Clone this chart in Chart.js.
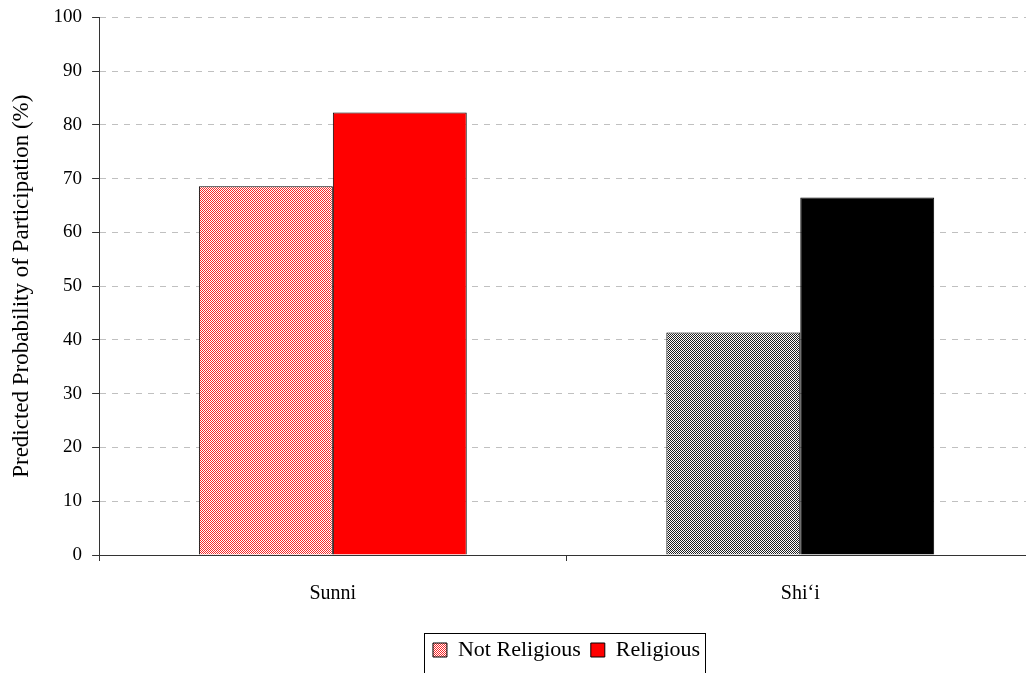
<!DOCTYPE html>
<html lang="en">
<head>
    <meta charset="UTF-8">
    <title>Predicted Probability of Participation</title>
    <script src="https://cdn.jsdelivr.net/npm/chart.js"></script>
    <style>
        html, body { margin: 0; padding: 0; background: #fff; overflow: hidden; }
        #wrap { width: 1040px; height: 675px; }
    </style>
</head>
<body>
<div id="wrap"><canvas id="chart"></canvas></div>

<script>
    const categories = ["Sunni", "Shi\u2018i"];
    const seriesNames = ["Not Religious", "Religious"];
    const notReligious = [68.6, 41.4];
    const religious = [82.3, 66.5];
    const yTicks = [0, 10, 20, 30, 40, 50, 60, 70, 80, 90, 100];

    // small checker patterns like the dithered fills in the original
    function checker(color) {
        const c = document.createElement('canvas');
        c.width = 2; c.height = 2;
        const g = c.getContext('2d');
        g.fillStyle = '#ffffff';
        g.fillRect(0, 0, 2, 2);
        g.fillStyle = color;
        g.fillRect(0, 0, 1, 1);
        g.fillRect(1, 1, 1, 1);
        return g.createPattern(c, 'repeat');
    }
    const ctx = document.getElementById('chart').getContext('2d');
    const redDots = checker('#F82828');
    const grayDots = checker('#202020');

    const serif = "'Liberation Serif', 'DejaVu Serif', serif";

    const legendFrame = {
        id: 'legendFrame',
        afterDraw(chart) {
            const boxes = chart.legend.legendHitBoxes;
            if (!boxes || !boxes.length) return;
            let l = Infinity, r = -Infinity, t = Infinity;
            boxes.forEach(b => { l = Math.min(l, b.left); r = Math.max(r, b.left + b.width); t = Math.min(t, b.top); });
            const c = chart.ctx;
            c.save();
            c.strokeStyle = '#000';
            c.lineWidth = 1;
            c.strokeRect(Math.round(l - 9) + 0.5, Math.round(t - 6) + 0.5, Math.round(r - l + 14), 80);
            c.restore();
        }
    };

    new Chart(ctx, {
        type: 'bar',
        data: {
            labels: categories,
            datasets: [
                { label: seriesNames[0], data: notReligious, backgroundColor: [redDots, grayDots], borderColor: '#000', borderWidth: 1 },
                { label: seriesNames[1], data: religious, backgroundColor: ['#FF0000', '#000000'], borderColor: '#000', borderWidth: 1 }
            ]
        },
        plugins: [legendFrame],
        options: {
            responsive: true,
            maintainAspectRatio: false,
            animation: false,
            layout: { padding: { top: 4, right: 6, left: 8, bottom: 4 } },
            datasets: { bar: { categoryPercentage: 0.573, barPercentage: 1.0 } },
            scales: {
                x: {
                    grid: { display: true, drawOnChartArea: false, drawTicks: true, tickLength: 6, tickColor: '#333', offset: true },
                    border: { color: '#333', width: 1 },
                    ticks: { color: '#000', padding: 21, font: { family: serif, size: 20 } },
                    afterFit: scale => { scale.height += 2; }
                },
                y: {
                    min: 0, max: 100,
                    afterBuildTicks: axis => { axis.ticks = yTicks.map(v => ({ value: v })); },
                    afterFit: scale => { scale.paddingTop = Math.max(0, scale.paddingTop - 4); },
                    grid: { color: '#c0c0c0', tickColor: '#333', tickLength: 7, lineWidth: 1 },
                    border: { color: '#333', width: 1, dash: [6, 6] },
                    ticks: { color: '#000', padding: 10, font: { family: serif, size: 19 } },
                    title: { display: true, text: 'Predicted Probability of Participation (%)', color: '#000', font: { family: serif, size: 23 }, padding: { top: 0, bottom: 8 } }
                }
            },
            plugins: {
                tooltip: { enabled: false },
                legend: {
                    position: 'bottom',
                    fullSize: false,
                    labels: {
                        color: '#000',
                        font: { family: serif, size: 22 },
                        boxWidth: 14, boxHeight: 14,
                        padding: 10,
                        generateLabels: () => [
                            { text: seriesNames[0], fillStyle: redDots, strokeStyle: '#000', lineWidth: 1, datasetIndex: 0 },
                            { text: seriesNames[1], fillStyle: '#FF0000', strokeStyle: '#000', lineWidth: 1, datasetIndex: 1 }
                        ]
                    }
                }
            }
        }
    });
</script>
</body>
</html>
